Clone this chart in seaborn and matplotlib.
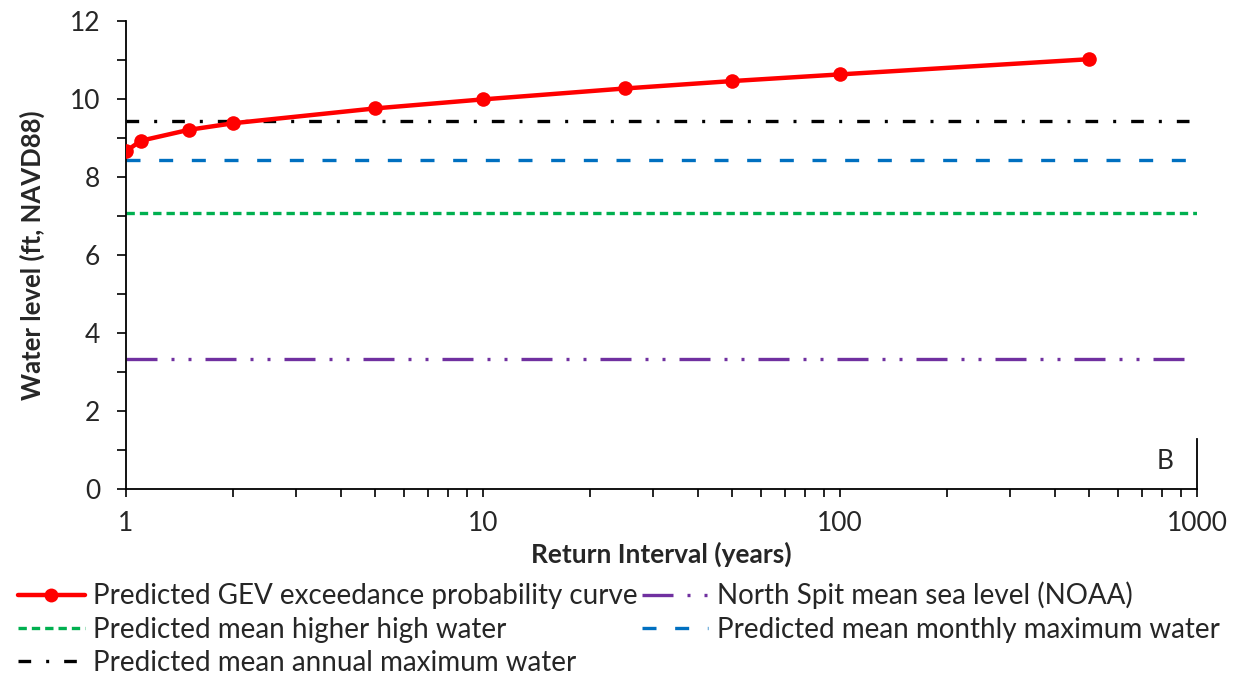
import matplotlib
matplotlib.use("Agg")
import matplotlib.pyplot as plt
from matplotlib.lines import Line2D
import matplotlib.ticker as mticker
import seaborn as sns
import pandas as pd
import numpy as np

# ---- data ----
return_interval = [1.0, 1.1, 1.5, 2, 5, 10, 25, 50, 100, 500]
gev_level = [8.66, 8.93, 9.21, 9.38, 9.76, 9.99, 10.27, 10.46, 10.63, 11.02]

ref_labels = [
    "North Spit mean sea level (NOAA)",
    "Predicted mean higher high water",
    "Predicted mean monthly maximum water",
    "Predicted mean annual maximum water",
]
ref_levels = [3.35, 7.09, 8.44, 9.44]
ref_colors = ["#7030A0", "#00B050", "#0070C0", "#000000"]
gev_label = "Predicted GEV exceedance probability curve"
panel_letter = "B"

sns.set_style("white")
plt.rcParams["font.family"] = ["Lato", "DejaVu Sans"]

fig = plt.figure(figsize=(12.41, 6.75), dpi=100)
ax = fig.add_axes([0.1015, 0.275, 0.863, 0.694])

lw = 2.4
dash_styles = [
    (0, (9.3, 4.2, 0.9, 4.2, 0.9, 4.2)),   # dash-dot-dot
    (0, (2.5, 1.5)),                       # short dashes
    (0, (4.2, 5.6)),                       # dashes
    (0, (3.8, 4.5, 0.9, 4.5)),             # dash-dot
]

ref_handles = []
for lab, lev, col, ls in zip(ref_labels, ref_levels, ref_colors, dash_styles):
    ax.axhline(lev, color=col, lw=lw, ls=ls, zorder=2)
    ref_handles.append(Line2D([], [], color=col, lw=lw, ls=ls))

df = pd.DataFrame({"x": return_interval, "y": gev_level})
sns.lineplot(data=df, x="x", y="y", ax=ax, color="#FF0000", lw=3.2,
             marker="o", markersize=10.5, markeredgewidth=0, zorder=3)
gev_handle = Line2D([], [], color="#FF0000", lw=3.2, marker="o",
                    markersize=10, markeredgewidth=0)

ax.set_xscale("log")
ax.set_xlim(1, 1000)
ax.set_ylim(0, 12)
ax.yaxis.set_major_locator(mticker.MultipleLocator(2))
ax.yaxis.set_minor_locator(mticker.MultipleLocator(1))
ax.xaxis.set_major_formatter(mticker.FuncFormatter(lambda v, p: f"{v:g}"))
ax.xaxis.set_minor_locator(mticker.LogLocator(base=10, subs=np.arange(2, 10)))
ax.xaxis.set_minor_formatter(mticker.NullFormatter())

ax.spines["top"].set_visible(False)
ax.spines["right"].set_bounds(0, 1.3)
for s in ["left", "bottom", "right"]:
    ax.spines[s].set_color("black")
    ax.spines[s].set_linewidth(1.3)

ax.tick_params(axis="y", which="both", direction="out", left=True,
               length=6.5, width=1.2, color="black", labelsize=19, pad=12)
ax.tick_params(axis="x", which="both", direction="out", bottom=True,
               length=5.5, width=1.2, color="black", labelsize=19, pad=10)

ax.set_xlabel("Return Interval (years)", fontsize=19, fontweight="bold", labelpad=4)
ax.set_ylabel("Water level (ft, NAVD88)", fontsize=18.5, fontweight="bold", labelpad=18)

ax.text(0.970, 0.06, panel_letter, transform=ax.transAxes, fontsize=19,
        ha="center", va="center")

handles = [gev_handle, ref_handles[1], ref_handles[3], ref_handles[0], ref_handles[2]]
labels = [gev_label, ref_labels[1], ref_labels[3], ref_labels[0], ref_labels[2]]
fig.legend(handles, labels, loc="upper left", bbox_to_anchor=(0.0145, 0.138),
           ncol=2, frameon=False, fontsize=20, handlelength=2.4,
           handletextpad=0.3, columnspacing=0.15, labelspacing=0.26,
           borderpad=0, borderaxespad=0)

fig.savefig("out.png", dpi=100, facecolor="white")
